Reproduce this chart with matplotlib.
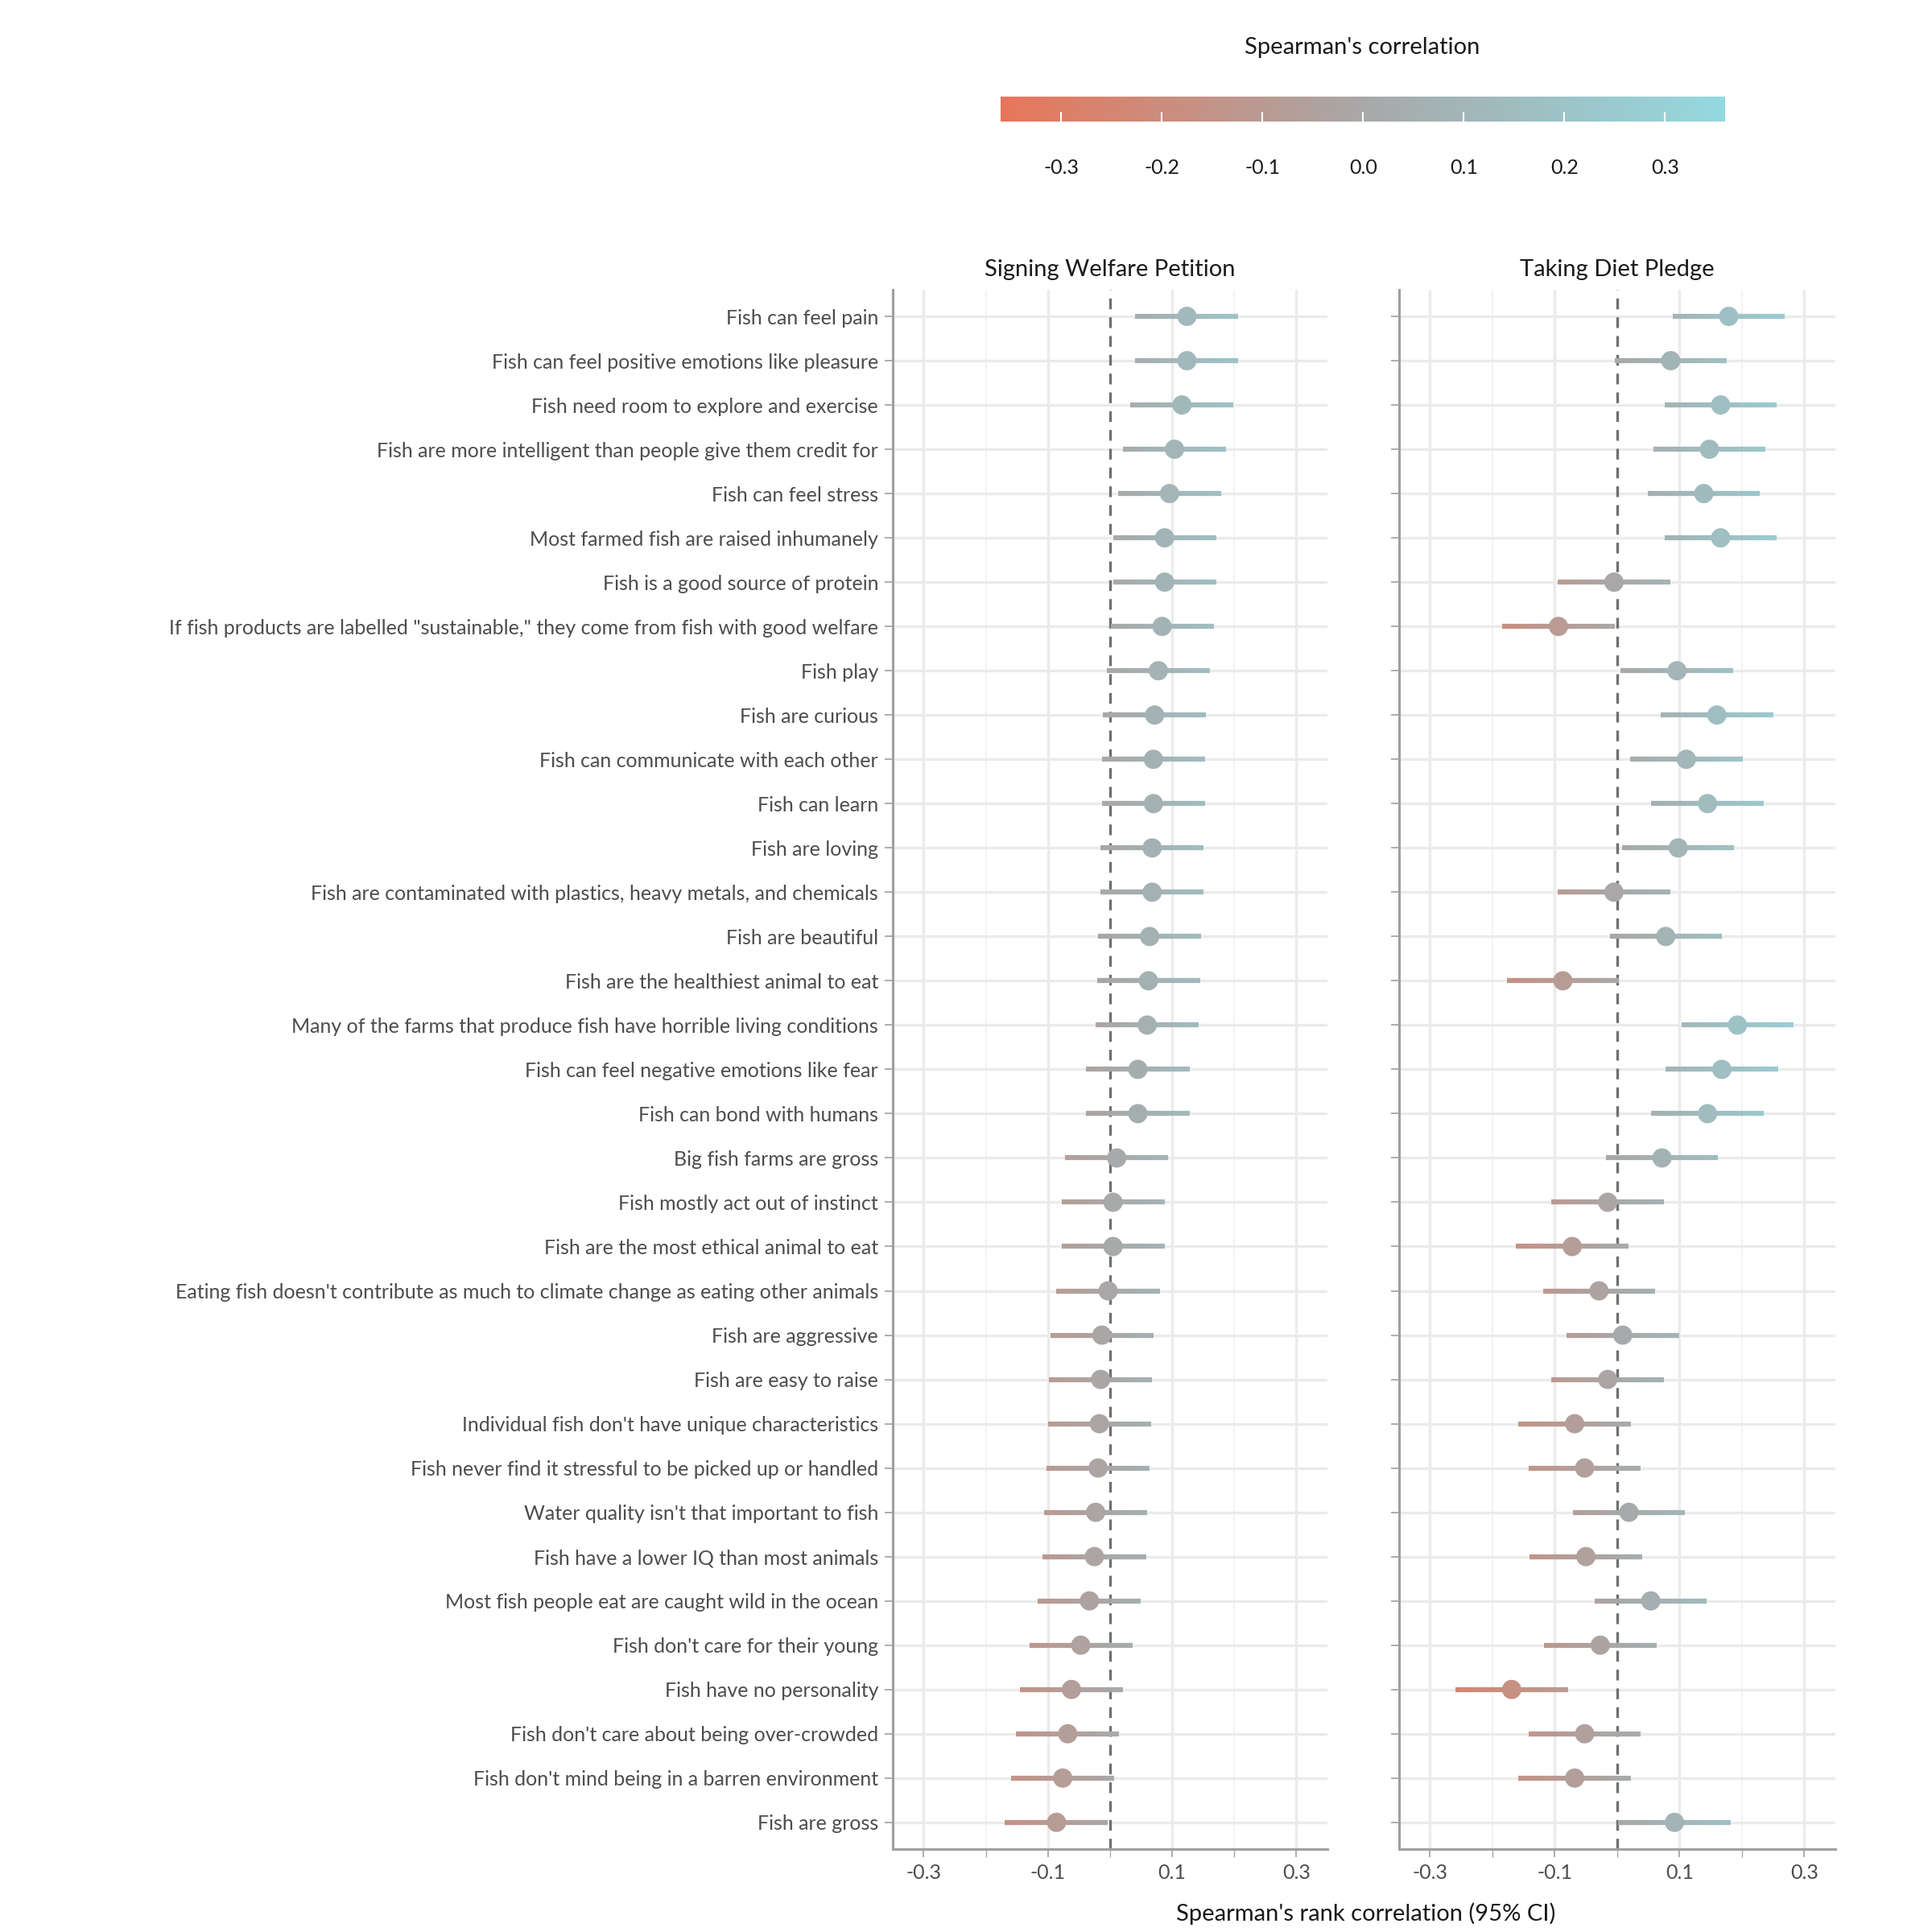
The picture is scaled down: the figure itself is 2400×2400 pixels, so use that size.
import numpy as np
import matplotlib.pyplot as plt
import matplotlib as mpl
from matplotlib.collections import LineCollection

plt.rcParams['font.family'] = ['Lato', 'DejaVu Sans']

items = [
    "Fish can feel pain", "Fish can feel positive emotions like pleasure",
    "Fish need room to explore and exercise",
    "Fish are more intelligent than people give them credit for",
    "Fish can feel stress", "Most farmed fish are raised inhumanely",
    "Fish is a good source of protein",
    "If fish products are labelled \"sustainable,\" they come from fish with good welfare",
    "Fish play", "Fish are curious", "Fish can communicate with each other",
    "Fish can learn", "Fish are loving",
    "Fish are contaminated with plastics, heavy metals, and chemicals",
    "Fish are beautiful", "Fish are the healthiest animal to eat",
    "Many of the farms that produce fish have horrible living conditions",
    "Fish can feel negative emotions like fear", "Fish can bond with humans",
    "Big fish farms are gross", "Fish mostly act out of instinct",
    "Fish are the most ethical animal to eat",
    "Eating fish doesn't contribute as much to climate change as eating other animals",
    "Fish are aggressive", "Fish are easy to raise",
    "Individual fish don't have unique characteristics",
    "Fish never find it stressful to be picked up or handled",
    "Water quality isn't that important to fish",
    "Fish have a lower IQ than most animals",
    "Most fish people eat are caught wild in the ocean",
    "Fish don't care for their young", "Fish have no personality",
    "Fish don't care about being over-crowded",
    "Fish don't mind being in a barren environment", "Fish are gross",
]

petition_est = [0.124, 0.124, 0.116, 0.104, 0.096, 0.088, 0.088, 0.084, 0.078, 0.072,
                0.070, 0.070, 0.068, 0.068, 0.064, 0.062, 0.060, 0.045, 0.045, 0.011,
                0.005, 0.005, -0.003, -0.013, -0.015, -0.017, -0.019, -0.023, -0.025,
                -0.033, -0.047, -0.062, -0.068, -0.076, -0.086]
petition_lo = [0.041, 0.041, 0.033, 0.021, 0.013, 0.005, 0.005, 0.001, -0.005, -0.011,
               -0.013, -0.013, -0.015, -0.015, -0.019, -0.021, -0.023, -0.038, -0.038, -0.072,
               -0.078, -0.078, -0.086, -0.096, -0.098, -0.100, -0.102, -0.106, -0.108,
               -0.116, -0.130, -0.145, -0.151, -0.159, -0.169]
petition_hi = [0.207, 0.207, 0.199, 0.187, 0.179, 0.171, 0.171, 0.167, 0.161, 0.155,
               0.153, 0.153, 0.151, 0.151, 0.147, 0.145, 0.143, 0.128, 0.128, 0.094,
               0.088, 0.088, 0.080, 0.070, 0.068, 0.066, 0.064, 0.060, 0.058,
               0.050, 0.036, 0.021, 0.015, 0.007, -0.003]

pledge_est = [0.179, 0.086, 0.166, 0.148, 0.139, 0.166, -0.005, -0.094, 0.096, 0.160,
              0.111, 0.145, 0.098, -0.005, 0.078, -0.087, 0.193, 0.168, 0.145, 0.072,
              -0.015, -0.072, -0.029, 0.009, -0.015, -0.068, -0.052, 0.019, -0.050,
              0.054, -0.027, -0.169, -0.052, -0.068, 0.092]
pledge_lo = [0.089, -0.004, 0.076, 0.058, 0.049, 0.076, -0.095, -0.184, 0.006, 0.070,
             0.021, 0.055, 0.008, -0.095, -0.012, -0.177, 0.103, 0.078, 0.055, -0.018,
             -0.105, -0.162, -0.119, -0.081, -0.105, -0.158, -0.142, -0.071, -0.140,
             -0.036, -0.117, -0.259, -0.142, -0.158, 0.002]
pledge_hi = [0.269, 0.176, 0.256, 0.238, 0.229, 0.256, 0.085, -0.004, 0.186, 0.250,
             0.201, 0.235, 0.188, 0.085, 0.168, 0.003, 0.283, 0.258, 0.235, 0.162,
             0.075, 0.018, 0.061, 0.099, 0.075, 0.022, 0.038, 0.109, 0.040,
             0.144, 0.063, -0.079, 0.038, 0.022, 0.182]

cmap = mpl.colors.LinearSegmentedColormap.from_list(
    "spear", ["#E8765A", "#A8A8A8", "#94D9E0"])
norm = mpl.colors.Normalize(vmin=-0.36, vmax=0.36)

fig = plt.figure(figsize=(16, 16), dpi=150)
ax1 = fig.add_axes([0.462, 0.043, 0.225, 0.807])
ax2 = fig.add_axes([0.724, 0.043, 0.226, 0.807])
cax = fig.add_axes([0.518, 0.937, 0.375, 0.013])

n = len(items)
ys = np.arange(n)[::-1]


def panel(ax, est, lo, hi, title, ylabels):
    ax.set_xlim(-0.35, 0.35)
    ax.set_ylim(-0.6, n - 0.4)
    for v in [-0.3, -0.1, 0.1, 0.3]:
        ax.axvline(v, color="#EBEBEB", lw=1.6, zorder=0)
    for v in [-0.2, 0.2]:
        ax.axvline(v, color="#F3F3F3", lw=1.0, zorder=0)
    for y in ys:
        ax.axhline(y, color="#EBEBEB", lw=1.6, zorder=0)
    ax.axvline(0, color="#707070", lw=1.6, ls=(0, (4, 3)), zorder=1)
    segs, cols = [], []
    for y, a, b in zip(ys, lo, hi):
        xs = np.linspace(a, b, 40)
        for i in range(len(xs) - 1):
            segs.append([(xs[i], y), (xs[i + 1], y)])
            cols.append(cmap(norm((xs[i] + xs[i + 1]) / 2)))
    ax.add_collection(LineCollection(segs, colors=cols, linewidths=3, zorder=2))
    ax.scatter(est, ys, s=110, c=est, cmap=cmap, norm=norm, zorder=3)
    ax.set_xticks([-0.3, -0.1, 0.1, 0.3])
    ax.set_xticklabels(["-0.3", "-0.1", "0.1", "0.3"])
    ax.set_xticks([-0.2, 0.0, 0.2], minor=True)
    ax.set_yticks(ys)
    ax.set_yticklabels(items if ylabels else [])
    for s in ["top", "right"]:
        ax.spines[s].set_visible(False)
    for s in ["left", "bottom"]:
        ax.spines[s].set_color("#A0A0A0")
        ax.spines[s].set_linewidth(1.5)
    ax.tick_params(which="both", colors="#A0A0A0", labelcolor="#4D4D4D",
                   labelsize=12, length=5)
    ax.set_title(title, fontsize=14, color="#1A1A1A", pad=8)


panel(ax1, petition_est, petition_lo, petition_hi, "Signing Welfare Petition", True)
panel(ax2, pledge_est, pledge_lo, pledge_hi, "Taking Diet Pledge", False)

fig.text(0.707, 0.006, "Spearman's rank correlation (95% CI)", ha="center",
         fontsize=14, color="#1A1A1A")

cb = fig.colorbar(mpl.cm.ScalarMappable(norm=norm, cmap=cmap), cax=cax,
                  orientation="horizontal",
                  ticks=[-0.3, -0.2, -0.1, 0.0, 0.1, 0.2, 0.3])
cb.outline.set_visible(False)
cb.ax.tick_params(color="white", length=6, width=1, direction="in",
                  labelsize=12, pad=22, labelcolor="#1A1A1A")
cb.ax.set_xticklabels(["-0.3", "-0.2", "-0.1", "0.0", "0.1", "0.2", "0.3"])
fig.text(0.705, 0.972, "Spearman's correlation", ha="center", fontsize=14,
         color="#1A1A1A")

fig.savefig("out.png", dpi=150)
